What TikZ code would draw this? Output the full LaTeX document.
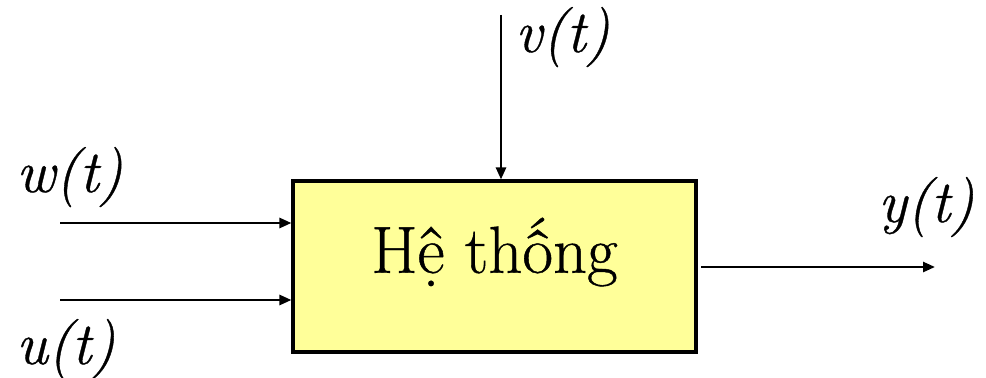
\documentclass[tikz,border=0pt]{standalone}
\usepackage{fontspec}
\setmainfont{Latin Modern Roman}[FakeBold=0.6]
\usetikzlibrary{arrows.meta}
\definecolor{boxfill}{HTML}{FFFF99}
\tikzset{
  arr/.style={line width=1.9pt,-{Triangle[length=9pt,width=7.5pt]}},
  sysbox/.style={draw,line width=2.3pt,fill=boxfill,minimum width=302.25pt,minimum height=128.25pt,
    inner sep=0pt,font=\fontsize{50}{56}\selectfont,text height=26pt,text depth=16.5pt},
  lbl/.style={inner sep=0pt,anchor=base west,font=\fontsize{45}{50}\selectfont\itshape}
}
\begin{document}
\begin{tikzpicture}[x=0.75pt,y=-0.75pt]
\useasboundingbox (0,0) rectangle (986,378);
\node[sysbox] (sys) at (494.5,266.5) {Hệ thống};
\coordinate (win) at (60,223);
\coordinate (uin) at (60,300);
\coordinate (vin) at (501,15);
\coordinate (yout) at (935,267);
\coordinate (ystart) at (701,267);
\draw[arr] (win) -- (win -| sys.west);
\draw[arr] (uin) -- (uin -| sys.west);
\draw[arr] (vin) -- (vin |- sys.north);
\draw[arr] (ystart) -- (yout);
\node[lbl] (wl) at (16,192) {w(t)};
\node[lbl] (ul) at (16,364) {u(t)};
\node[lbl] (vl) at (515,52) {v(t)};
\node[lbl] (yl) at (878,222) {y(t)};
\end{tikzpicture}
\end{document}
